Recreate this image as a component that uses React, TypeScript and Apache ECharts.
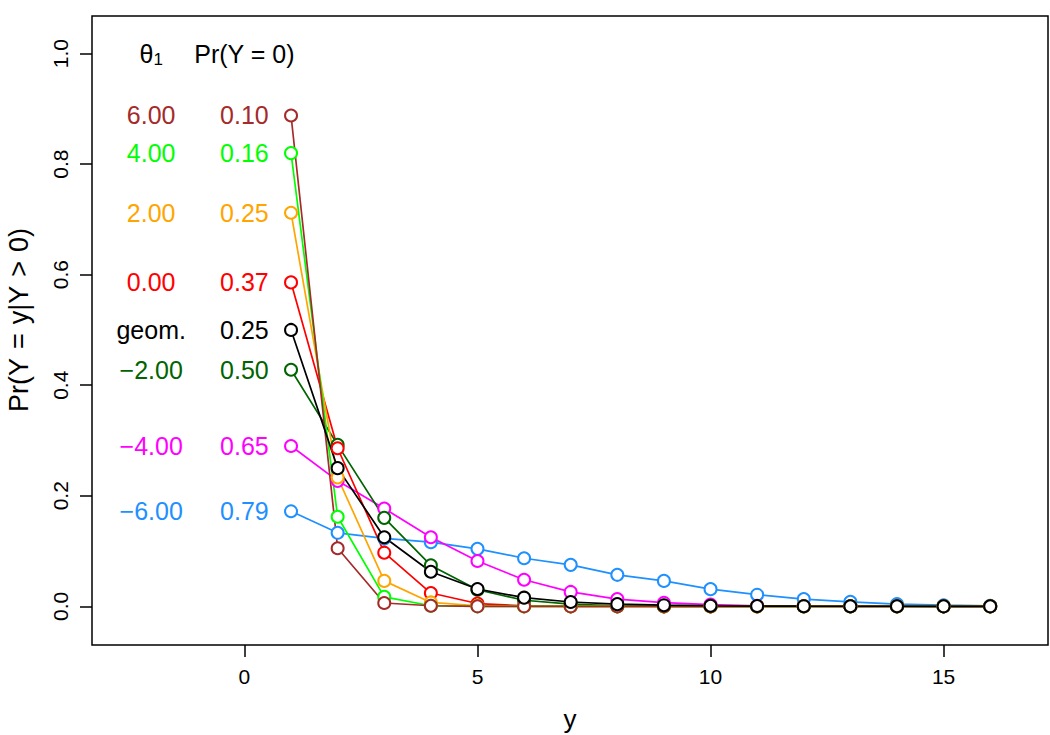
import React, { useEffect, useRef } from "react";
import * as echarts from "echarts";

const yValues = [1, 2, 3, 4, 5, 6, 7, 8, 9, 10, 11, 12, 13, 14, 15, 16];
const xTicks = [0, 5, 10, 15];
const yTicks = [0, 0.2, 0.4, 0.6, 0.8, 1.0];

const thetaLabels = ["6.00", "4.00", "2.00", "0.00", "geom.", "\u22122.00", "\u22124.00", "\u22126.00"];
const prZeroLabels = ["0.10", "0.16", "0.25", "0.37", "0.25", "0.50", "0.65", "0.79"];
const colors = ["#A52A2A", "#00FF00", "#FFA500", "#FF0000", "#000000", "#006400", "#FF00FF", "#1E90FF"];

const pTheta6 = [0.888, 0.105, 0.006, 0.001, 0, 0, 0, 0, 0, 0, 0, 0, 0, 0, 0, 0];
const pTheta4 = [0.82, 0.162, 0.017, 0.001, 0, 0, 0, 0, 0, 0, 0, 0, 0, 0, 0, 0];
const pTheta2 = [0.712, 0.233, 0.046, 0.007, 0.001, 0, 0, 0, 0, 0, 0, 0, 0, 0, 0, 0];
const pTheta0 = [0.586, 0.286, 0.097, 0.024, 0.005, 0.001, 0, 0, 0, 0, 0, 0, 0, 0, 0, 0];
const pGeom = [0.5, 0.25, 0.125, 0.0625, 0.0313, 0.0156, 0.0078, 0.0039, 0.002, 0.001, 0.0005, 0.0002, 0.0001, 0.0001, 0, 0];
const pThetaM2 = [0.428, 0.292, 0.16, 0.074, 0.03, 0.011, 0.004, 0.001, 0, 0, 0, 0, 0, 0, 0, 0];
const pThetaM4 = [0.29, 0.227, 0.177, 0.125, 0.082, 0.048, 0.026, 0.013, 0.0065, 0.003, 0.001, 0.0005, 0, 0, 0, 0];
const pThetaM6 = [0.172, 0.133, 0.123, 0.116, 0.104, 0.087, 0.075, 0.057, 0.046, 0.031, 0.021, 0.013, 0.008, 0.004, 0.002, 0.001];

const seriesValues = [pTheta6, pTheta4, pTheta2, pTheta0, pGeom, pThetaM2, pThetaM4, pThetaM6];
// drawing order (last on top)
const drawOrder = [7, 6, 5, 3, 2, 1, 0, 4];

const FONT = "'Liberation Sans', Arial, Helvetica, sans-serif";

export default function App() {
  const ref = useRef<HTMLDivElement>(null);
  useEffect(() => {
    if (!ref.current) return;
    const chart = echarts.init(ref.current, undefined, { renderer: "svg" });

    const lineSeries = drawOrder.map((i) => ({
      type: "line",
      name: thetaLabels[i],
      data: yValues.map((y, k) => [y, seriesValues[i][k]]),
      symbol: "emptyCircle",
      symbolSize: 12,
      showSymbol: true,
      lineStyle: { color: colors[i], width: 1.7 },
      itemStyle: { color: colors[i], borderColor: colors[i], borderWidth: 1.7 },
      z: 3,
    }));

    const textSeries = (xPos: number, labels: string[]) => ({
      type: "scatter",
      symbolSize: 0,
      silent: true,
      z: 5,
      itemStyle: { opacity: 1 },
      data: labels.map((t, i) => ({
        value: [xPos, seriesValues[i][0]],
        label: {
          show: true,
          position: "inside",
          formatter: t,
          color: colors[i],
          opacity: 1,
          fontSize: 25,
          fontFamily: FONT,
        },
      })),
    });

    const headerSeries = {
      type: "scatter",
      symbolSize: 0,
      silent: true,
      z: 5,
      itemStyle: { opacity: 1 },
      data: [
        {
          value: [-2, 1.0],
          label: {
            show: true,
            position: "inside",
            formatter: "{a|\u03b8}{b|1}",
            opacity: 1,
            rich: {
              a: { fontSize: 25, fontFamily: FONT, color: "#000" },
              b: { fontSize: 17, fontFamily: FONT, color: "#000", padding: [12, 0, 0, 0] },
            },
          },
        },
        {
          value: [0, 1.0],
          label: {
            show: true,
            position: "inside",
            formatter: "Pr(Y = 0)",
            color: "#000",
            opacity: 1,
            fontSize: 25,
            fontFamily: FONT,
          },
        },
      ],
    };

    chart.setOption({
      animation: false,
      backgroundColor: "#ffffff",
      grid: {
        left: 92,
        right: 2,
        top: 16,
        bottom: 90,
        show: true,
        borderColor: "#000",
        borderWidth: 1.5,
        containLabel: false,
      },
      xAxis: {
        type: "value",
        min: -3.27,
        max: 17.24,
        axisLine: { show: false, onZero: false },
        splitLine: { show: false },
        axisTick: { show: true, inside: false, length: 12, lineStyle: { color: "#000", width: 1.5 }, customValues: xTicks },
        axisLabel: {
          show: true,
          customValues: xTicks,
          color: "#000",
          fontSize: 21,
          fontFamily: FONT,
          margin: 21,
          formatter: (v: number) => String(v),
        },
      },
      yAxis: {
        type: "value",
        min: -0.07,
        max: 1.068,
        axisLine: { show: false, onZero: false },
        splitLine: { show: false },
        axisTick: { show: true, inside: false, length: 12, lineStyle: { color: "#000", width: 1.5 }, customValues: yTicks },
        axisLabel: {
          show: true,
          customValues: yTicks,
          rotate: 90,
          color: "#000",
          fontSize: 21,
          fontFamily: FONT,
          margin: 21,
          formatter: (v: number) => v.toFixed(1),
        },
      },
      graphic: [
        {
          type: "text",
          x: 570,
          y: 719,
          style: { text: "y", font: `26px ${FONT}`, fill: "#000", textAlign: "center", textVerticalAlign: "middle" },
        },
        {
          type: "text",
          x: 19,
          y: 320,
          rotation: Math.PI / 2,
          style: {
            text: "Pr(Y\u2004=\u2004y|Y\u2004>\u20040)",
            font: `27px ${FONT}`,
            fill: "#000",
            textAlign: "center",
            textVerticalAlign: "middle",
          },
        },
      ],
      series: [...lineSeries, textSeries(-2, thetaLabels), textSeries(0, prZeroLabels), headerSeries],
    });

    return () => chart.dispose();
  }, []);

  return <div ref={ref} style={{ position: "fixed", left: 0, top: 0, width: 1050, height: 735 }} />;
}
